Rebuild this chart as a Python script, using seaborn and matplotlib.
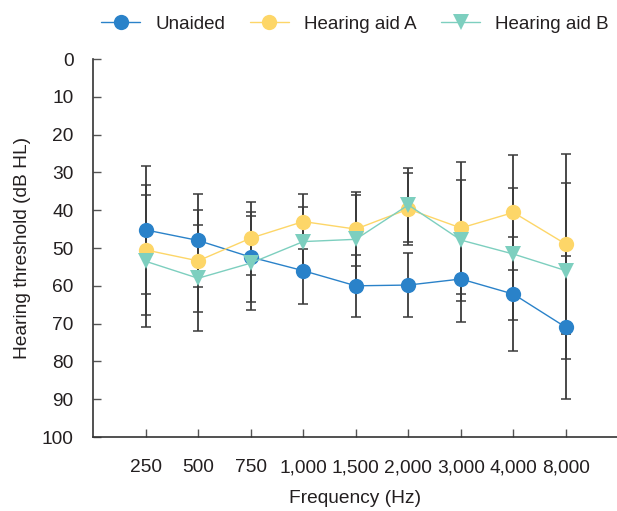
import numpy as np
import pandas as pd
import matplotlib
matplotlib.use("Agg")
import matplotlib.pyplot as plt
import seaborn as sns

# Data
freqs = ["250", "500", "750", "1,000", "1,500", "2,000", "3,000", "4,000", "8,000"]
unaided = [45.2, 48, 52.4, 56, 60, 59.8, 58.2, 62.2, 71]
unaided_sd = [17, 12.3, 11.8, 8.9, 8.2, 8.4, 11.5, 15, 18.9]
aid_a = [50.5, 53.4, 47.4, 43, 45, 39.7, 44.7, 40.6, 49]
aid_a_sd = [17.2, 13.5, 9.7, 7.2, 9.8, 9.5, 17.5, 15.3, 23.8]
aid_b = [53.5, 58, 54, 48.3, 47.7, 38.6, 47.9, 51.6, 56]
aid_b_sd = [17.5, 14, 12.5, 9.1, 11.7, 9.9, 16, 17.5, 23.3]

series = ["Unaided", "Hearing aid A", "Hearing aid B"]
colors = {"Unaided": "#2a82c9", "Hearing aid A": "#fdd668", "Hearing aid B": "#7dcfbf"}
markers = {"Unaided": "o", "Hearing aid A": "o", "Hearing aid B": "v"}

df = pd.concat([
    pd.DataFrame({"freq": freqs, "thr": unaided, "sd": unaided_sd, "group": "Unaided"}),
    pd.DataFrame({"freq": freqs, "thr": aid_a, "sd": aid_a_sd, "group": "Hearing aid A"}),
    pd.DataFrame({"freq": freqs, "thr": aid_b, "sd": aid_b_sd, "group": "Hearing aid B"}),
], ignore_index=True)

sns.set_style("white")
plt.rcParams["font.family"] = ["Liberation Sans", "DejaVu Sans"]
text_color = "#231f20"
fs = 13.8

fig = plt.figure(figsize=(6.17, 5.11), dpi=100)
ax = fig.add_axes([0.1507, 0.1448, 0.8493, 0.7397])

# error bars first so markers sit on top
for g in series:
    sub = df[df["group"] == g]
    ax.errorbar(sub["freq"], sub["thr"], yerr=sub["sd"], fmt="none",
                ecolor="#3a3a3a", elinewidth=1.3, capsize=3.5, capthick=1.1, zorder=1)

sns.lineplot(data=df, x="freq", y="thr", hue="group", style="group",
             hue_order=series, style_order=series, palette=colors,
             markers=markers, dashes=False, markersize=11, markeredgewidth=0,
             linewidth=1.0, sort=False, ax=ax, zorder=3)

ax.set_ylim(100, 0)
ax.set_xlim(-1.0, 8.97)
ax.set_yticks(range(0, 101, 10))
ax.tick_params(axis="both", direction="in", length=6, width=1, color="#555555",
               labelsize=fs, labelcolor=text_color, left=True, bottom=True)
ax.tick_params(axis="y", pad=14)
ax.tick_params(axis="x", pad=16)
for s in ["top", "right"]:
    ax.spines[s].set_visible(False)
for s in ["left", "bottom"]:
    ax.spines[s].set_color("#333333")
    ax.spines[s].set_linewidth(1.2)

ax.set_xlabel("Frequency (Hz)", fontsize=fs, color=text_color, labelpad=10)
ax.set_ylabel("Hearing threshold (dB HL)", fontsize=fs, color=text_color, labelpad=8)

handles, labels = ax.get_legend_handles_labels()
ax.legend(handles, labels, loc="lower center", bbox_to_anchor=(0.5, 1.05), ncol=3,
          frameon=False, fontsize=13.5, handlelength=2.1, handletextpad=0.8,
          columnspacing=1.3, labelcolor=text_color, borderaxespad=0)

fig.savefig("out.png", dpi=100)
